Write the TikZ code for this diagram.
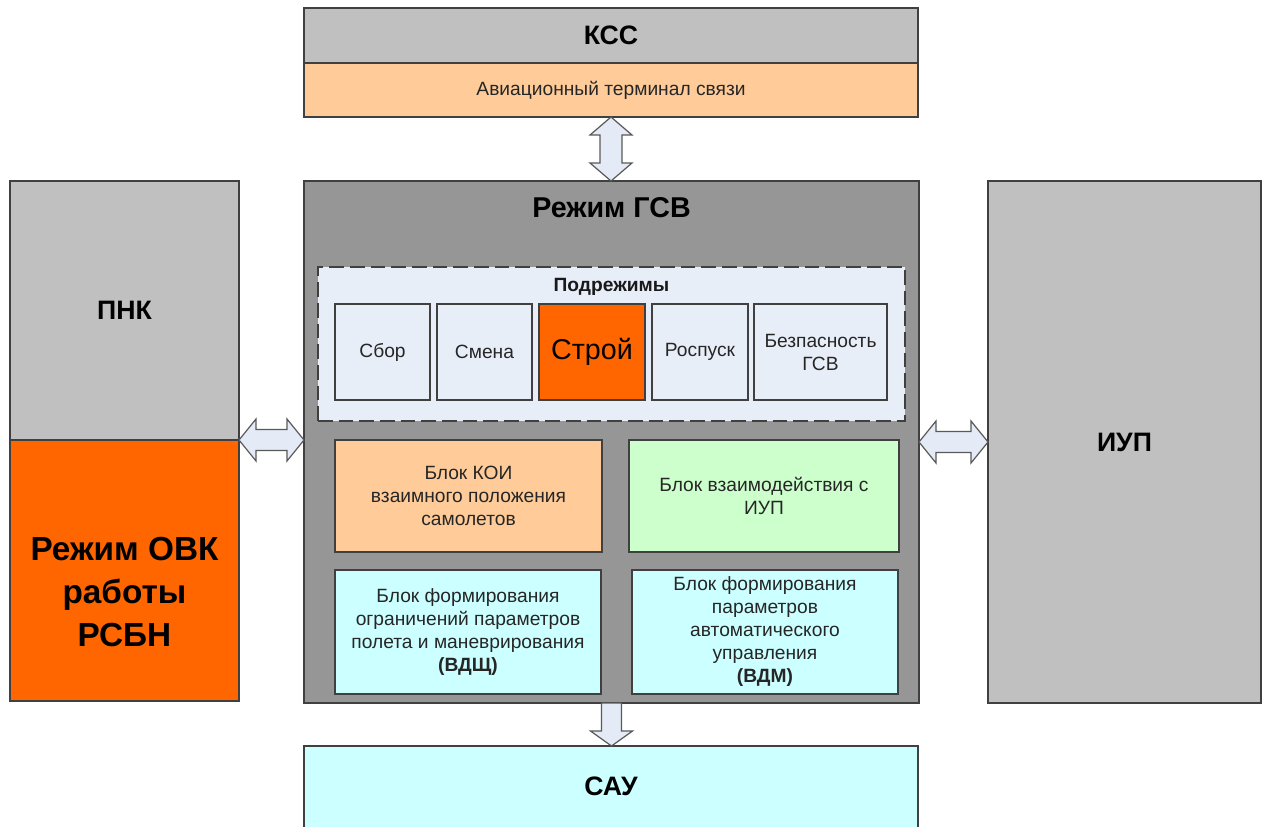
\documentclass[tikz,border=0pt]{standalone}
\usepackage{fontspec}
\setmainfont{Liberation Sans}
\usetikzlibrary{calc}
\definecolor{cgray}{HTML}{C0C0C0}
\definecolor{cdark}{HTML}{969696}
\definecolor{cpeach}{HTML}{FFCC99}
\definecolor{corange}{HTML}{FF6600}
\definecolor{clblue}{HTML}{E8EEF8}
\definecolor{cgreen}{HTML}{CCFFCC}
\definecolor{ccyan}{HTML}{CCFFFF}
\definecolor{carrow}{HTML}{E4EBF6}
\definecolor{cline}{HTML}{404040}
\newcommand\pxbox[7]{%
  \node[#6, anchor=north west, minimum width={(#4-#2)*0.75pt}, minimum height={(#5-#3)*0.75pt}] (#1) at (#2,#3) {#7};}
\tikzset{
  box/.style={draw=cline, line width=0.8pt, inner sep=0pt, outer sep=0pt, align=center,
    font=\fontsize{14.4}{17.25}\selectfont, text=black!85},
  big/.style={font=\fontsize{20}{24}\selectfont\bfseries, text=black},
  arr/.style={draw=black!65, fill=carrow, line width=0.9pt, line join=miter},
}
\begin{document}
\begin{tikzpicture}[x=0.75pt,y=-0.75pt]
\useasboundingbox (0,0) rectangle (1267,826);
\clip (0,0) rectangle (1267,826);
% top
\pxbox{ksc}{304}{8}{918}{63}{box,fill=cgray,big}{КСС}
\pxbox{term}{304}{63}{918}{117}{box,fill=cpeach}{Авиационный терминал связи}
% left
\pxbox{pnk}{10}{181}{239}{440}{box,fill=cgray,big}{ПНК}
\pxbox{ovk}{10}{440}{239}{701}{box,fill=corange}{}
\node[font=\fontsize{25}{32.25}\selectfont\bfseries, align=center, text=black] (ovkt) at ($(ovk.center)+(0,22)$) {Режим ОВК\\работы\\РСБН};
% centre
\pxbox{gsv}{304}{181}{919}{703}{box,fill=cdark}{}
\node[big,font=\fontsize{21.5}{24}\selectfont\bfseries] (gsvt) at ($(gsv.north)+(0,27)$) {Режим ГСВ};
\pxbox{sub}{318}{267}{905}{421}{box,line width=1.1pt,dash pattern=on 11pt off 4.5pt,fill=clblue}{}
\node[font=\fontsize{14.4}{17}\selectfont\bfseries, text=black!90] (subt) at ($(sub.north)+(0,20)$) {Подрежимы};
\pxbox{s1}{335}{304}{430}{400}{box,fill=clblue}{Сбор}
\pxbox{s2}{437}{304}{532}{400}{box,fill=clblue}{Смена}
\pxbox{s3}{539}{304}{645}{400}{box,fill=corange,font=\fontsize{21.5}{24}\selectfont,text=black}{Строй}
\pxbox{s4}{652}{304}{748}{400}{box,fill=clblue}{Роспуск}
\pxbox{s5}{754}{304}{887}{400}{box,fill=clblue}{Безпасность\\ГСВ}
\pxbox{koi}{335}{440}{602}{552}{box,fill=cpeach}{Блок КОИ\\взаимного положения\\самолетов}
\pxbox{vz}{629}{440}{899}{552}{box,fill=cgreen}{Блок взаимодействия с\\ИУП}
\pxbox{vdsh}{335}{570}{601}{694}{box,fill=ccyan}{Блок формирования\\ограничений параметров\\полета и маневрирования\\\textbf{(ВДЩ)}}
\pxbox{vdm}{632}{570}{898}{694}{box,fill=ccyan}{Блок формирования\\параметров\\автоматического\\управления\\\textbf{(ВДМ)}}
% right
\pxbox{iup}{988}{181}{1261}{703}{box,fill=cgray,big}{ИУП}
% bottom
\pxbox{sau}{304}{746}{918}{840}{box,fill=ccyan}{}
\node[big] (saut) at ($(sau.north)+(0,40)$) {САУ};
% arrows
\draw[arr] (term.south) -- ++(21,18) -- ++(-10,0) -- ($(term.south |- gsv.north)+(11,-18)$) -- ++(10,0)
  -- (term.south |- gsv.north) -- ++(-21,-18) -- ++(10,0) -- ($(term.south)+(-11,18)$) -- ++(-10,0) -- cycle;
\draw[arr] (pnk.south east) -- ++(17,-21) -- ++(0,10.5) -- ($(gsv.west |- pnk.south east)+(-17,-10.5)$) -- ++(0,-10.5)
  -- (gsv.west |- pnk.south east) -- ++(-17,21) -- ++(0,-10.5) -- ($(pnk.south east)+(17,10.5)$) -- ++(0,10.5) -- cycle;
\draw[arr] (gsv.east |- iup.west) -- ++(17,-21) -- ++(0,10.5) -- ($(iup.west)+(-17,-10.5)$) -- ++(0,-10.5)
  -- (iup.west) -- ++(-17,21) -- ++(0,-10.5) -- ($(gsv.east |- iup.west)+(17,10.5)$) -- ++(0,10.5) -- cycle;
\draw[arr] ($(gsv.south)+(-10,0)$) -- ++(20,0) -- ($(gsv.south |- sau.north)+(10,-15)$) -- ++(11,0)
  -- (gsv.south |- sau.north) -- ++(-21,-15) -- ++(11,0) -- cycle;
\end{tikzpicture}
\end{document}
